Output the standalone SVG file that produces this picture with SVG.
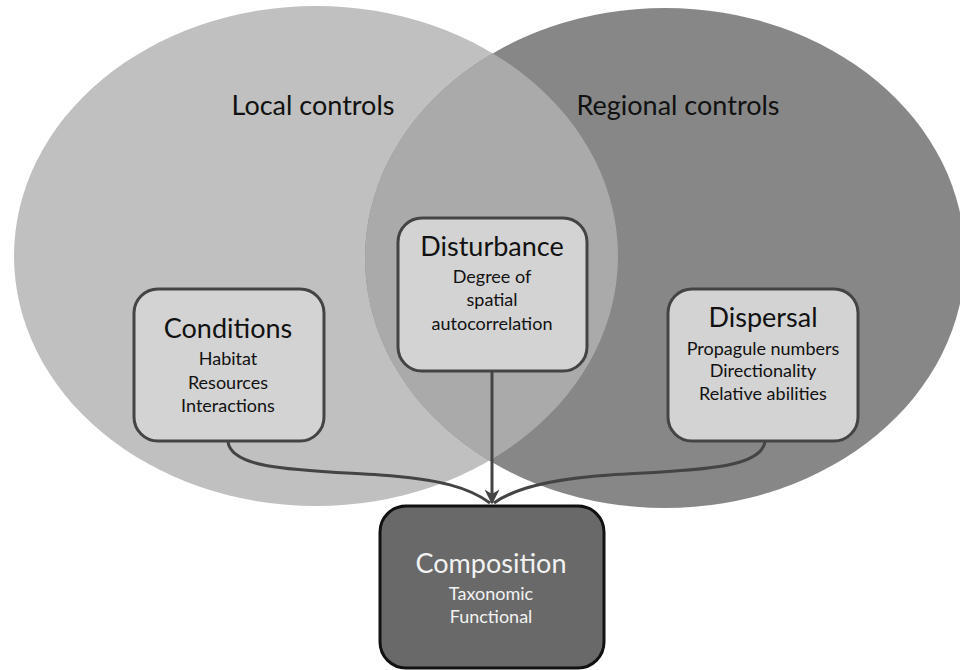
<svg xmlns="http://www.w3.org/2000/svg" width="960" height="670" viewBox="0 0 960 670">
<style>
.title{font-family:Lato,"Open Sans",sans-serif;font-size:27px;fill:#111;text-anchor:middle}
.sub{font-family:Lato,"Open Sans",sans-serif;font-size:18px;fill:#111;text-anchor:middle}
.box{fill:#d3d3d3;stroke:#444;stroke-width:3}
.conn{fill:none;stroke:#444;stroke-width:3}
</style>
<defs>
<clipPath id="leftClip"><ellipse cx="316" cy="256" rx="302" ry="250"/></clipPath>
<marker id="arr" viewBox="0 0 10 10" refX="9" refY="5" markerWidth="5" markerHeight="5" orient="auto" markerUnits="strokeWidth">
<path d="M0,0 L10,5 L0,10 L3,5 z" fill="#444"/>
</marker>
</defs>
<rect width="960" height="670" fill="#fff"/>
<g id="venn">
<ellipse cx="316" cy="256" rx="302" ry="250" fill="#c0c0c0"/>
<ellipse cx="665" cy="258" rx="300" ry="250" fill="#878787"/>
<ellipse cx="665" cy="258" rx="300" ry="250" fill="#aaaaaa" clip-path="url(#leftClip)"/>
<text x="313" y="115" class="title">Local controls</text>
<text x="678" y="115" class="title">Regional controls</text>
</g>
<g id="connectors">
<path class="conn" d="M228 442 C232 470 300 470 380 475 C440 479 470 488 490 503"/>
<path class="conn" d="M765 442 C760 470 690 470 610 475 C550 479 515 488 494 503"/>
<path class="conn" d="M492 372 L492 503" marker-end="url(#arr)"/>
</g>
<g id="conditions">
<rect class="box" x="134" y="289" width="190" height="152" rx="24"/>
<text x="228" y="338" class="title">Conditions</text>
<text x="228" y="365" class="sub">Habitat</text>
<text x="228" y="389" class="sub">Resources</text>
<text x="228" y="412" class="sub">Interactions</text>
</g>
<g id="disturbance">
<rect class="box" x="398" y="218" width="189" height="153" rx="24"/>
<text x="492" y="256" class="title">Disturbance</text>
<text x="492" y="283" class="sub">Degree of</text>
<text x="492" y="306" class="sub">spatial</text>
<text x="492" y="330" class="sub">autocorrelation</text>
</g>
<g id="dispersal">
<rect class="box" x="668" y="289" width="190" height="152" rx="24"/>
<text x="763" y="327" class="title">Dispersal</text>
<text x="763" y="355" class="sub">Propagule numbers</text>
<text x="763" y="377" class="sub">Directionality</text>
<text x="763" y="400" class="sub">Relative abilities</text>
</g>
<g id="composition">
<rect x="380" y="506" width="224" height="162" rx="26" fill="#696969" stroke="#111" stroke-width="3"/>
<text x="491" y="573" class="title" style="fill:#f2f2f2">Composition</text>
<text x="491" y="600" class="sub" style="fill:#f2f2f2">Taxonomic</text>
<text x="491" y="623" class="sub" style="fill:#f2f2f2">Functional</text>
</g>
</svg>
